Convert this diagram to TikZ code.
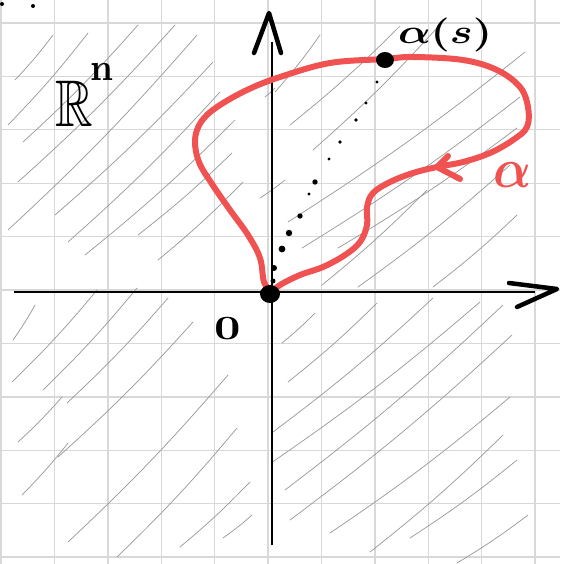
\documentclass[tikz,border=0pt]{standalone}
\usepackage{amsmath,amssymb}
\usepackage{xcolor}
\usepackage{tikz}
\definecolor{skred}{RGB}{240,82,82}
\definecolor{skgrid}{RGB}{216,216,216}
\definecolor{skgrey}{RGB}{150,150,150}
\tikzset{
  gridln/.style={draw=skgrid, line width=1.4pt},
  axis/.style={draw=black, line width=2.6pt},
  tipln/.style={draw=black, line width=4.5pt, line cap=round, line join=round},
  curve/.style={draw=skred, line width=6pt, line cap=round, line join=round},
  hatch/.style={draw=skgrey, line width=0.7pt, line cap=round},
  lbl/.style={inner sep=0pt, text=black},
}

\begin{document}
\begin{tikzpicture}[x=1pt, y=-1pt]
\useasboundingbox (0,0) rectangle (560,564);
\foreach \k in {0,...,10} {
  \draw[gridln] ({1+53.4*\k},0) -- ({1+53.4*\k},564);
  \draw[gridln] (0,{23+53.4*\k}) -- (560,{23+53.4*\k});
}
\foreach \xa/\ya/\xb/\yb in {15/80/53/35, 8/125/88/33, 23/142/138/25, 18/182/175/25,
    8/230/197/35, 55/215/213/62, 68/242/220/92, 85/255/235/120, 138/235/232/153,
    158/260/243/182, 260/198/285/180, 265/97/275/88,
    13/340/35/305, 12/382/97/290, 43/390/137/288, 67/403/168/298, 18/442/62/397,
    22/495/68/443, 58/457/193/322, 68/542/228/375, 117/557/237/428, 180/547/250/482,
    223/538/252/515,
    282/343/315/313, 288/382/377/303, 273/432/433/298, 271/463/480/302, 285/490/503/305,
    290/520/512/335, 330/533/510/397, 370/552/503/435, 410/538/517/460, 457/563/528/515,
    275/92/320/35, 290/125/400/26, 313/150/437/28, 288/222/525/52, 302/248/520/97,
    338/248/517/128, 322/285/427/190, 358/287/510/165, 433/287/517/215}
  \draw[hatch] (\xa,\ya) to[bend right=3] (\xb,\yb);

\coordinate (xl) at (14,292);
\coordinate (xr) at (535,292);
\coordinate (yb) at (272,545);
\coordinate (yt) at (272,42);
\draw[axis] (xl) -- (xr);
\draw[axis] (yb) -- (yt);
\draw[tipln] (509,283) -- (557,289) -- (517,307);
\draw[tipln] (254,53) -- (269,13) -- (281,53);

\draw[curve] plot[smooth, tension=0.6] coordinates {(271,292) (264,282) (260,258)
  (248,235) (230,210) (212,184) (199,162) (195,140) (201,122) (217,107)
  (247,90) (280,77) (330,63) (385,59) (413,57) (463,60) (497,70) (520,87) (528,107)
  (527,127) (513,140) (490,153) (463,162) (437,167) (413,173) (390,182) (373,193)
  (367,207) (367,225) (360,242) (345,255) (323,267) (300,275) (280,285) (272,292)};
\draw[curve] (448,156) -- (437,167) -- (460,179);

\foreach \x/\y/\r in {377/82/1.7, 366/103/1.7, 356/120/1.8, 340/142/1.8, 329/159/1.7,
    315/182/2.7, 309/194/1.6, 300/216/2.7, 289/233/3.2, 282/249/3.4, 274/268/3,
    273/281/2.5}
  \fill (\x,\y) circle (\r pt);
\fill (2,4) circle (2pt);
\fill (33,6) circle (2pt);

\coordinate (o) at (270,294);
\coordinate (p) at (385,60);
\fill (o) ellipse (10pt and 9pt);
\fill (p) ellipse (9pt and 8pt);

\node[lbl] (ps) at (445,35) {\scalebox{4.3}[3.4]{\boldmath$\alpha(s)$}};
\node[lbl, text=skred] (al) at (513,175) {\scalebox{5}[5.6]{\boldmath$\alpha$}};
\node[lbl] (rn) at (74,104) {\scalebox{5.2}[6.6]{$\mathbb{R}$}};
\node[lbl] (rnn) at (102,72) {\scalebox{3.6}[3.8]{\bfseries n}};
\node[lbl] (zero) at (228,329) {\scalebox{4.6}[3.4]{\bfseries 0}};
\end{tikzpicture}
\end{document}
